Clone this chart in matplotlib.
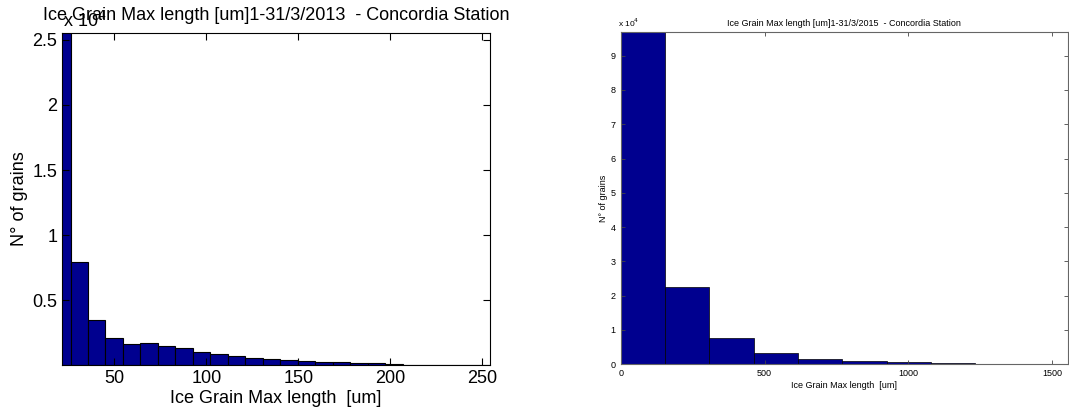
import matplotlib.pyplot as plt

plt.rcParams['font.family'] = ['Liberation Sans', 'DejaVu Sans']

# Data
centers_2013 = [21.4, 30.9, 40.4, 49.9, 59.4, 68.9, 78.4, 87.9, 97.4, 106.9,
                116.4, 125.9, 135.4, 144.9, 154.4, 163.9, 173.4, 182.9, 192.4,
                201.9, 211.4, 220.9, 230.4, 239.9, 249.4]
counts_2013 = [32000, 7950, 3460, 2050, 1590, 1720, 1490, 1280, 1030, 820,
               670, 510, 440, 360, 280, 250, 200, 180, 160,
               60, 40, 30, 20, 10, 10]
bin_w_2013 = 9.5

centers_2015 = [77, 231, 385, 539, 693, 847, 1001, 1155, 1309, 1463]
counts_2015 = [120000, 22500, 7700, 3400, 1650, 880, 600, 400, 100, 50]
bin_w_2015 = 154

ticks_2013_y = [5000, 10000, 15000, 20000, 25000]
labels_2013_y = ['0.5', '1', '1.5', '2', '2.5']
ticks_2015_y = [0, 10000, 20000, 30000, 40000, 50000, 60000, 70000, 80000, 90000]
labels_2015_y = ['0', '1', '2', '3', '4', '5', '6', '7', '8', '9']

bar_color = '#00008F'

fig = plt.figure(figsize=(10.69, 4.12), dpi=100)

# Grafico 2013
ax1 = fig.add_axes([0.058, 0.114, 0.400, 0.806])
ax1.bar(centers_2013, counts_2013, width=bin_w_2013, color=bar_color,
        edgecolor='black', linewidth=0.8)
ax1.set_xlim(21.5, 254)
ax1.set_ylim(0, 25540)
ax1.set_xticks([50, 100, 150, 200, 250])
ax1.set_yticks(ticks_2013_y)
ax1.set_yticklabels(labels_2013_y)
ax1.tick_params(direction='in', top=True, right=True, length=5, labelsize=13)
ax1.set_xlabel('Ice Grain Max length  [um]', fontsize=13, labelpad=2)
ax1.set_ylabel('N° of grains', fontsize=13, labelpad=3)
ax1.set_title('Ice Grain Max length [um]1-31/3/2013  - Concordia Station',
              fontsize=13, pad=9)
ax1.text(0.002, 1.005, r'x 10$^4$', transform=ax1.transAxes, fontsize=13,
         ha='left', va='bottom')

# Grafico 2015
ax2 = fig.add_axes([0.5806, 0.116, 0.418, 0.807])
ax2.bar(centers_2015, counts_2015, width=bin_w_2015, color=bar_color,
        edgecolor='black', linewidth=0.5)
ax2.set_xlim(0, 1553)
ax2.set_ylim(0, 97000)
ax2.set_xticks([0, 500, 1000, 1500])
ax2.set_yticks(ticks_2015_y)
ax2.set_yticklabels(labels_2015_y)
ax2.tick_params(direction='in', top=True, right=True, length=3, width=0.6,
                labelsize=6.5, colors='#444444', labelcolor='black')
for sp in ax2.spines.values():
    sp.set_color('#666666')
    sp.set_linewidth(0.8)
ax2.set_xlabel('Ice Grain Max length  [um]', fontsize=6.5, labelpad=2)
ax2.set_ylabel('N° of grains', fontsize=6.5, labelpad=2)
ax2.set_title('Ice Grain Max length [um]1-31/3/2015  - Concordia Station',
              fontsize=6.5, pad=4)
ax2.text(-0.005, 1.008, r'x 10$^4$', transform=ax2.transAxes, fontsize=6,
         ha='left', va='bottom')

fig.savefig('out.png', dpi=100)
